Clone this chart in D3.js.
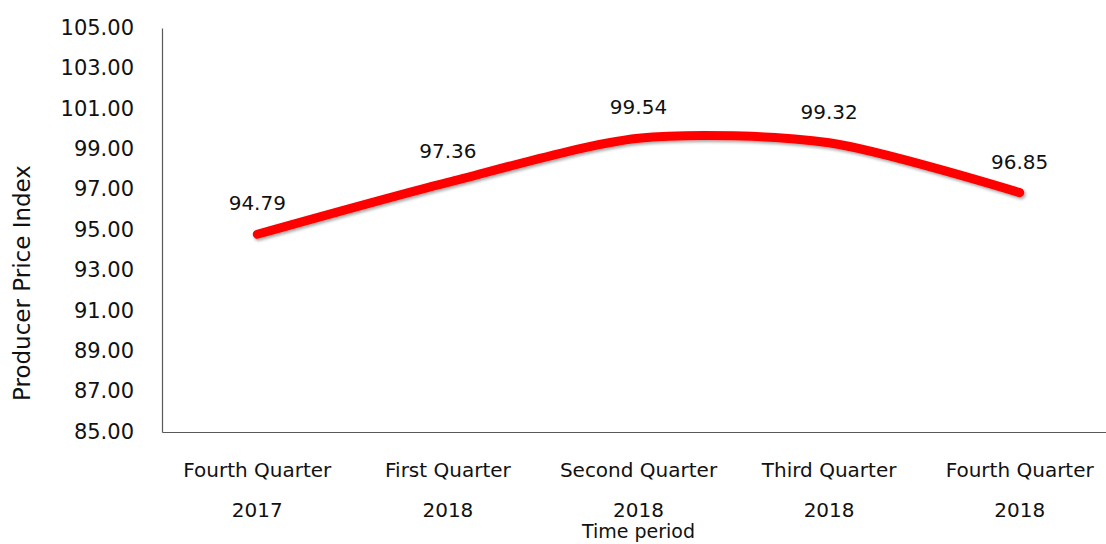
<!DOCTYPE html>
<html><head><meta charset="utf-8">
<script src="https://cdn.jsdelivr.net/npm/d3@7"></script>
<style>body{margin:0;background:#fff;} text{font-family:"DejaVu Sans",sans-serif;fill:#111;}</style>
</head><body><svg id="c" width="1106" height="544"></svg>
<script>
const categoriesLine1 = ["Fourth Quarter","First Quarter","Second Quarter","Third Quarter","Fourth Quarter"];
const categoriesLine2 = ["2017","2018","2018","2018","2018"];
const values = [94.79, 97.36, 99.54, 99.32, 96.85];
const yTicks = [85,87,89,91,93,95,97,99,101,103,105];
const yTitle = "Producer Price Index";
const xTitle = "Time period";

const svg = d3.select("#c");
const mLeft = 162, mRight = 1115, mTop = 28, mBottom = 432;
const x = d3.scaleBand().domain(d3.range(values.length)).range([mLeft, mRight]);
const y = d3.scaleLinear().domain([85,105]).range([mBottom, mTop]);

const defs = svg.append("defs");
const f = defs.append("filter").attr("id","sh").attr("x","-10%").attr("y","-50%").attr("width","120%").attr("height","200%");
f.append("feDropShadow").attr("dx",1.5).attr("dy",2).attr("stdDeviation",1.5).attr("flood-color","#000").attr("flood-opacity",0.35);

const yAxis = d3.axisLeft(y).tickValues(yTicks).tickSize(0).tickPadding(28).tickFormat(d3.format(".2f"));
const gy = svg.append("g").attr("transform",`translate(${mLeft},0)`).call(yAxis);
gy.select(".domain").attr("stroke","#595959").attr("stroke-width",1.2);
gy.selectAll("text").style("font-size","21px").attr("font-family","DejaVu Sans").attr("fill","#111").attr("dy","0.3em");

const xAxis = d3.axisBottom(x).tickSize(0).tickFormat(()=> "");
const gx = svg.append("g").attr("transform",`translate(0,${mBottom})`).call(xAxis);
gx.select(".domain").attr("stroke","#595959").attr("stroke-width",1.2);

const labels = svg.append("g");
values.forEach((v,i)=>{
  const cx = x(i)+x.bandwidth()/2;
  labels.append("text").attr("x",cx).attr("y",477).attr("text-anchor","middle").style("font-size","20px").text(categoriesLine1[i]);
  labels.append("text").attr("x",cx).attr("y",517).attr("text-anchor","middle").style("font-size","20px").text(categoriesLine2[i]);
});

svg.append("text").attr("x",x(2)+x.bandwidth()/2).attr("y",538).attr("text-anchor","middle").style("font-size","19px").text(xTitle);
svg.append("text").attr("transform","translate(30,283) rotate(-90)").attr("text-anchor","middle").style("font-size","23px").text(yTitle);

const line = d3.line().x((d,i)=>x(i)+x.bandwidth()/2).y(d=>y(d)).curve(d3.curveCardinal.tension(0.2));
svg.append("path").datum(values).attr("d",line).attr("fill","none").attr("stroke","#ff0000").attr("stroke-width",9).attr("stroke-linecap","round").attr("filter","url(#sh)");

svg.append("g").selectAll("text").data(values).join("text")
  .attr("x",(d,i)=>x(i)+x.bandwidth()/2).attr("y",d=>y(d)-24).attr("text-anchor","middle").style("font-size","20px").text(d=>d.toFixed(2));
</script></body></html>
